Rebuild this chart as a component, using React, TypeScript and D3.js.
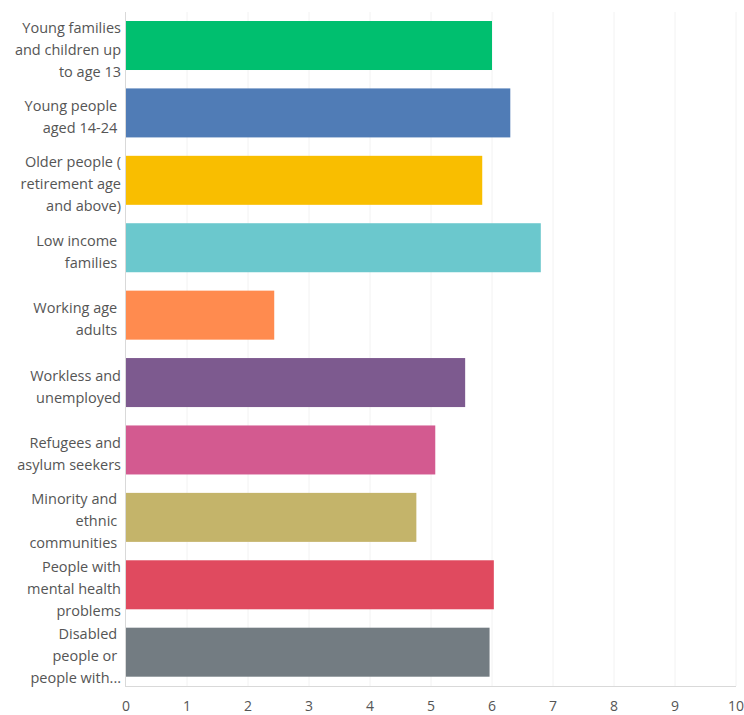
import React from "react";
import * as d3 from "d3";

const categories: string[][] = [
  ["Young families", "and children up", "to age 13"],
  ["Young people ", "aged 14-24 "],
  ["Older people (", "retirement age", "and above)"],
  ["Low income ", "families "],
  ["Working age ", "adults "],
  ["Workless and", "unemployed"],
  ["Refugees and", "asylum seekers"],
  ["Minority and ", "ethnic ", "communities "],
  ["People with", "mental health", "problems"],
  ["Disabled ", "people or ", "people with..."],
];
const values: number[] = [6.0, 6.3, 5.84, 6.8, 2.43, 5.56, 5.07, 4.76, 6.03, 5.96];
const colors: string[] = [
  "#00BF6F", "#507CB6", "#F9BE00", "#6BC8CD", "#FF8B4F",
  "#7D5A8F", "#D35A90", "#C4B46A", "#E04A5F", "#737C82",
];
const ticks: number[] = [0, 1, 2, 3, 4, 5, 6, 7, 8, 9, 10];

export default function App() {
  const W = 744, H = 715;
  const x = d3.scaleLinear().domain([0, 10]).range([126, 736]);
  const y = d3
    .scaleBand<number>()
    .domain(d3.range(categories.length))
    .range([11.8, 685.9])
    .paddingInner(0.273)
    .paddingOuter(0.1365);
  const font = "'Open Sans', 'Noto Sans', sans-serif";
  return (
    <svg
      width={W}
      height={H}
      style={{ position: "absolute", left: 0, top: 0, background: "#fff" }}
    >
      {ticks.slice(1).map((t) => (
        <line key={"g" + t} x1={x(t)} x2={x(t)} y1={12} y2={686} stroke="#f2f2f2" strokeWidth={1} />
      ))}
      {values.map((v, i) => (
        <rect key={"b" + i} x={x(0)} y={y(i)!} width={x(v) - x(0)} height={y.bandwidth()} fill={colors[i]} />
      ))}
      <line x1={125.5} x2={125.5} y1={12} y2={686} stroke="#d9d9d9" strokeWidth={1} />
      <line x1={125} x2={736} y1={686.5} y2={686.5} stroke="#d9d9d9" strokeWidth={1} />
      {ticks.map((t) => (
        <text key={"t" + t} x={x(t)} y={711} textAnchor="middle" fontFamily={font} fontSize={14} fill="#555">
          {t}
        </text>
      ))}
      {categories.map((lines, i) => {
        const c = y(i)! + y.bandwidth() / 2;
        const first = c - (lines.length - 1) * 11 + 9;
        return (
          <text key={"l" + i} fontFamily={font} fontSize={14.5} fill="#555" textAnchor="end" style={{ whiteSpace: "pre" }}>
            {lines.map((ln, j) => (
              <tspan key={j} x={121} y={first + j * 22}>
                {ln}
              </tspan>
            ))}
          </text>
        );
      })}
    </svg>
  );
}
